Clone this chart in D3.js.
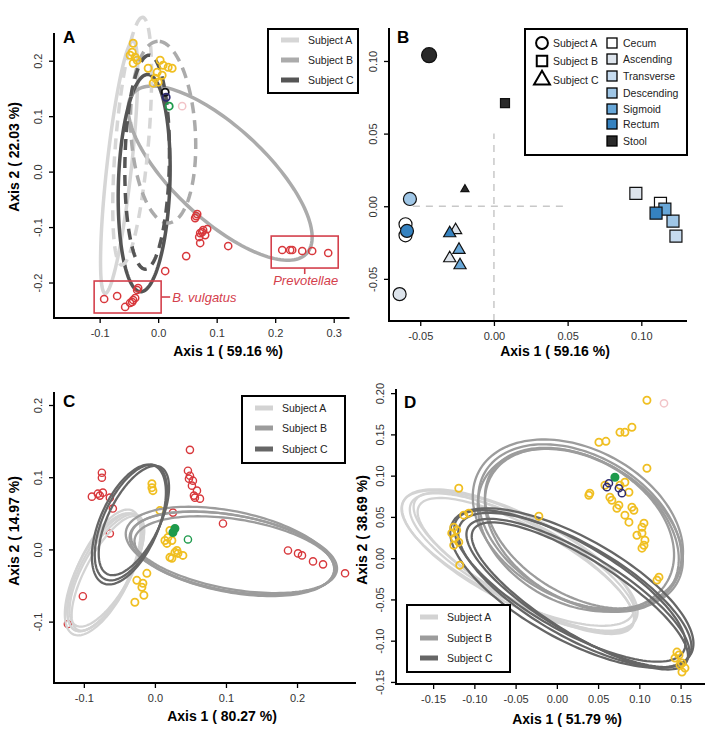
<!DOCTYPE html>
<html><head><meta charset="utf-8">
<script src="https://cdn.jsdelivr.net/npm/d3@7"></script>
<style>
body{margin:0;background:#fff;}
svg{display:block;font-family:"Liberation Sans",Arial,Helvetica,sans-serif;}
</style>
</head><body>
<svg id="fig" width="714" height="736"></svg>
<script>
// ---------------- DATA ----------------
const subjects = ["Subject A", "Subject B", "Subject C"];
const sites = ["Cecum", "Ascending", "Transverse", "Descending", "Sigmoid", "Rectum", "Stool"];

// Panel A: ellipses [subject, dashed, cx, cy, a, b, angleDeg]
const ellipsesA = [
  [0, 0, -0.0667, 0.0081, 0.229, 0.021, 84],
  [1, 0, 0.1060, -0.0027, 0.207, 0.081, -45],
  [2, 0, -0.0239, -0.0207, 0.196, 0.044, 88.2],
  [0, 1, -0.0444, 0.0550, 0.224, 0.028, 85.4],
  [1, 1, 0.0085, 0.0712, 0.164, 0.055, 93.3],
  [2, 1, -0.0188, 0.0171, 0.193, 0.038, 89]
];
const goldA = [[-0.0427,0.2315],[-0.0444,0.2153],[-0.0479,0.2099],[-0.0393,0.2063],[-0.0359,0.2009],[-0.0427,0.1955],
  [0.0034,0.2009],[0.0085,0.1919],[0.0171,0.1883],[0.0239,0.1865],[-0.0017,0.1793],[-0.0051,0.1685],[-0.0085,0.1595],
  [0.0,0.1613],[0.0068,0.1739],[-0.0171,0.1865]];
const redA = [[0.065,-0.0802],[0.0632,-0.0838],[0.0667,-0.0766],[0.0718,-0.1108],[0.0752,-0.109],[0.0769,-0.1054],
  [0.0701,-0.118],[0.0838,-0.1036],[0.0718,-0.1288],[0.0803,-0.1144],[0.1197,-0.1342],[0.0479,-0.1523],[0.012,-0.1793],
  [0.212,-0.1414],[0.2256,-0.1414],[0.2291,-0.1414],[0.2462,-0.1432],[0.2632,-0.1432],[0.2906,-0.1468],
  [-0.0923,-0.2297],[-0.0701,-0.2243],[-0.0564,-0.2441],[-0.0444,-0.2351],[-0.0427,-0.2315],[-0.0393,-0.2279],
  [-0.0479,-0.2369],[-0.0342,-0.2099],[-0.0359,-0.2135]];
const blackA = [[0.012,0.1432]];
const navyA = [[0.0137,0.1342]];
const greenA = [[0.0188,0.118]];
const pinkA = [[0.041,0.118]];
const boxesA = [
  {label: "B. vulgatus", x0: -0.1094, x1: 0.0051, y0: -0.255, y1: -0.1973, side: "right"},
  {label: "Prevotellae", x0: 0.1932, x1: 0.3077, y0: -0.1739, y1: -0.1162, side: "below"}
];
const ticksAx = [-0.1, 0, 0.1, 0.2, 0.3];
const ticksAy = [-0.2, -0.1, 0, 0.1, 0.2];

// Panel B: [subject, site, x, y]
const pointsB = [
  [0,6,-0.044,0.104],[1,6,0.0075,0.071],[2,6,-0.0197,0.0117],
  [0,3,-0.057,0.005],[0,0,-0.060,-0.0124],[0,0,-0.060,-0.020],[0,5,-0.059,-0.017],[0,1,-0.064,-0.0605],
  [2,1,-0.026,-0.0165],[2,5,-0.030,-0.0186],[2,4,-0.0237,-0.030],[2,1,-0.030,-0.0358],[2,4,-0.023,-0.0406],
  [1,1,0.0963,0.0089],[1,0,0.113,0.002],[1,4,0.116,-0.002],[1,5,0.110,-0.0048],[1,3,0.1215,-0.0103],[1,2,0.1235,-0.0206]
];
const refLinesB = {h: [-0.055, 0.05], v: [-0.079, 0.05]};
const ticksBx = [-0.05, 0, 0.05, 0.10];
const ticksBy = [-0.05, 0, 0.05, 0.10];

// Panel C: ellipses [subject, cx, cy, a, b, angleDeg]
const ellipsesC = [
  [0,-0.0704,-0.0317,0.0907,0.0349,62],[0,-0.0676,-0.0290,0.088,0.033,60],[0,-0.0732,-0.0345,0.093,0.037,63],
  [0,-0.0662,-0.0331,0.089,0.031,61],[0,-0.0718,-0.0290,0.092,0.036,64],
  [1,0.1085,-0.0055,0.146,0.053,-10],[1,0.1127,-0.0083,0.143,0.050,-9],[1,0.1056,-0.0028,0.149,0.056,-11],
  [1,0.1113,-0.0041,0.147,0.051,-10],
  [2,-0.0338,0.0372,0.0865,0.039,65],[2,-0.0296,0.0400,0.083,0.036,63],[2,-0.0366,0.0345,0.089,0.041,66]
];
const redC = [[0.0493,0.1379],[0.0465,0.109],[0.0493,0.1021],[0.0535,0.0952],[0.0521,0.0883],[0.0592,0.0814],
  [0.0549,0.0745],[0.0634,0.0703],[0.0563,0.0717],[0.0479,0.0979],[-0.0746,0.1062],[-0.0746,0.0993],[-0.0887,0.0731],
  [-0.0803,0.0772],[-0.0732,0.0786],[-0.0634,0.0717],[-0.0592,0.0566],[-0.0775,0.0745],[-0.0634,0.0221],[0.0254,0.051],
  [0.0958,0.0359],[-0.1014,-0.0648],[-0.1225,-0.1034],[0.1873,-0.0014],[0.2014,-0.0055],[0.207,-0.0083],
  [0.2225,-0.0166],[0.2366,-0.0207],[0.2676,-0.0331]];
const goldC = [[-0.0042,0.091],[-0.0042,0.0855],[-0.0028,0.0814],[0.007,0.0538],[0.0211,0.0262],[0.0183,0.0166],
  [0.0169,0.0083],[0.0141,0.0124],[0.0239,0.0124],[0.0282,-0.0041],[0.0211,-0.011],[0.0394,-0.0083],[0.0324,-0.0055],
  [0.031,-0.0014],[0.0239,-0.0124],[-0.0113,-0.0331],[-0.0169,-0.0469],[-0.0183,-0.0524],[-0.0155,-0.0634],
  [-0.0282,-0.0731],[-0.0254,-0.0428]];
const greenC = [[0.0254,0.0234],[0.0282,0.029],[0.0465,0.0138]];
const ticksCx = [-0.1, 0, 0.1, 0.2];
const ticksCy = [-0.1, 0, 0.1, 0.2];

// Panel D
const ellipsesD = [
  [0,-0.0413,-0.0048,0.153,0.048,-28],[0,-0.0449,-0.0024,0.158,0.053,-27],[0,-0.0376,-0.0085,0.148,0.044,-29],
  [0,-0.0473,0.0,0.155,0.051,-26],[0,-0.0400,-0.0061,0.152,0.046,-30],
  [1,0.0279,0.0375,0.133,0.087,-30],[1,0.0303,0.0339,0.128,0.085,-32],[1,0.0255,0.0412,0.136,0.091,-28],
  [1,0.0328,0.0363,0.131,0.082,-31],[1,0.0231,0.0339,0.127,0.088,-29],
  [2,0.0218,-0.0386,0.160,0.056,-30],[2,0.0255,-0.0422,0.155,0.048,-31],[2,0.0182,-0.0362,0.165,0.062,-29],
  [2,0.0279,-0.0458,0.152,0.045,-32],[2,0.0158,-0.0337,0.159,0.053,-30]
];
const goldD = [[0.1092,0.1913],[0.091,0.1586],[0.0765,0.1525],[0.0825,0.1525],[0.051,0.1404],[0.0595,0.1416],
  [0.1092,0.109],[0.0583,0.0884],[0.0765,0.0884],[0.0825,0.092],[0.0874,0.0799],[0.04,0.0787],[0.0388,0.0763],
  [0.0643,0.0738],[0.0667,0.0702],[0.0752,0.0642],[0.0728,0.0605],[0.091,0.0617],[0.0934,0.0581],[0.0825,0.0521],
  [0.0874,0.0436],[0.1056,0.0424],[0.1032,0.0375],[0.0971,0.0278],[0.1032,0.0303],[0.1068,0.0218],[0.1056,0.0157],
  [0.1032,0.0121],[-0.1189,0.0847],[-0.1129,0.0521],[-0.1068,0.0545],[-0.0218,0.0508],[-0.125,0.0375],
  [-0.1274,0.0303],[-0.1214,0.0339],[-0.1238,0.0242],[-0.125,0.0157],[-0.1189,0.0194],[-0.1177,-0.0085],
  [0.1238,-0.023],[0.1214,-0.0266],[0.1456,-0.1138],[0.1481,-0.1174],[0.1432,-0.1211],[0.1517,-0.1271],
  [0.1553,-0.1332],[0.1517,-0.138],[0.1493,-0.1295]];
const pinkD = [[0.1299,0.1877]];
const greenD = [[0.0704,0.0981]];
const navyD = [[0.0631,0.0908],[0.0607,0.086],[0.0789,0.0787],[0.0752,0.0847]];
const ticksDx = [-0.15, -0.10, -0.05, 0, 0.05, 0.10, 0.15];
const ticksDy = [-0.15, -0.10, -0.05, 0, 0.05, 0.10, 0.15, 0.20];

// ---------------- STYLE ----------------
const greysA = ["#d6d6d6", "#ababab", "#555555"];
const greysCD = ["#d3d3d3", "#9c9c9c", "#666666"];
const siteColors = ["#ffffff", "#dde4ec", "#c6dbef", "#9fc6e6", "#68a7d8", "#3582c0", "#2a2a2a"];
const GOLD = "#f0bf22", RED = "#d8383c", GREEN = "#1e9a4c", NAVY = "#2e2b70", PINK = "#f2c4c8", BLACK = "#111";
const ANN = "#d4404c";

const svg = d3.select("#fig");
const FONT_TICK = 11;

function drawAxes(g, x, y, xt, yt, fmt) {
  const [x0, x1] = x.range(), [y0, y1] = y.range();
  const ax = g.append("g").attr("transform", `translate(0,${y0})`)
    .call(d3.axisBottom(x).tickValues(xt).tickFormat(fmt).tickSize(5).tickPadding(5));
  ax.select(".domain").remove();
  ax.selectAll("line").attr("stroke", "#000").attr("stroke-width", 1.3);
  ax.selectAll("text").attr("font-size", FONT_TICK).attr("fill", "#333").attr("font-family", null).attr("y", 11);
  const ay = g.append("g").attr("transform", `translate(${x0},0)`)
    .call(d3.axisLeft(y).tickValues(yt).tickFormat(fmt).tickSize(5));
  ay.select(".domain").remove();
  ay.selectAll("line").attr("stroke", "#000").attr("stroke-width", 1.3);
  ay.selectAll("text").attr("font-size", FONT_TICK).attr("fill", "#333").attr("font-family", null)
    .attr("text-anchor", "middle").attr("transform", "rotate(-90)").attr("x", 0).attr("y", -12).attr("dy", null);
  g.append("path").attr("d", `M${x0},${y1}V${y0}H${x1}`).attr("fill", "none").attr("stroke", "#000").attr("stroke-width", 2);
}
function title(g, txt, x, y, rot) {
  const t = g.append("text").text(txt).attr("font-size", 14).attr("font-weight", "bold").attr("text-anchor", "middle");
  if (rot) t.attr("transform", `translate(${x},${y}) rotate(-90)`); else t.attr("x", x).attr("y", y);
}
function letter(g, txt, x, y) {
  g.append("text").text(txt).attr("x", x).attr("y", y).attr("font-size", 17).attr("font-weight", "bold");
}
function ellipsePts(cx, cy, a, b, ang) {
  const th = ang * Math.PI / 180;
  return d3.range(0, 145).map(i => {
    const t = i / 144 * 2 * Math.PI;
    return [cx + a * Math.cos(t) * Math.cos(th) - b * Math.sin(t) * Math.sin(th),
            cy + a * Math.cos(t) * Math.sin(th) + b * Math.sin(t) * Math.cos(th)];
  });
}
function pts(g, data, x, y, color, r, sw, fill) {
  g.append("g").selectAll("circle").data(data).join("circle")
    .attr("cx", d => x(d[0])).attr("cy", d => y(d[1])).attr("r", r)
    .attr("fill", fill || "none").attr("stroke", color).attr("stroke-width", sw);
}
function lineLegend(g, x0, y0, w, h, rows, colors) {
  g.append("rect").attr("x", x0).attr("y", y0).attr("width", w).attr("height", h)
    .attr("fill", "#fff").attr("stroke", "#000").attr("stroke-width", 2);
  subjects.forEach((s, i) => {
    const yy = rows[i];
    g.append("line").attr("x1", x0 + 13).attr("x2", x0 + 31).attr("y1", yy).attr("y2", yy)
      .attr("stroke", colors[i]).attr("stroke-width", 5);
    g.append("text").text(s).attr("x", x0 + 40).attr("y", yy).attr("dy", "0.35em")
      .attr("font-size", 10.5).attr("fill", "#222");
  });
}
const fmtA = v => v.toFixed(1);
const fmtB = v => v.toFixed(2);

// ---------------- PANEL A ----------------
{
  const g = svg.append("g");
  const x = d3.scaleLinear().domain([-0.178, 0.327]).range([54, 349.5]);
  const y = d3.scaleLinear().domain([-0.264, 0.25]).range([318, 33]);
  const line = d3.line().x(d => x(d[0])).y(d => y(d[1]));
  ellipsesA.forEach(e => {
    g.append("path").attr("d", line(ellipsePts(e[2], e[3], e[4], e[5], e[6])) + "Z")
      .attr("fill", "none").attr("stroke", greysA[e[0]]).attr("stroke-width", 3.5)
      .attr("stroke-dasharray", e[1] ? "11,7" : null);
  });
  pts(g, goldA, x, y, GOLD, 3.6, 1.8);
  pts(g, redA, x, y, RED, 3.6, 1.5);
  pts(g, blackA, x, y, BLACK, 3.6, 1.8);
  pts(g, navyA, x, y, NAVY, 3.6, 1.8);
  pts(g, greenA, x, y, GREEN, 3.6, 1.8);
  pts(g, pinkA, x, y, PINK, 3.6, 1.5);
  boxesA.forEach(b => {
    g.append("rect").attr("x", x(b.x0)).attr("y", y(b.y1)).attr("width", x(b.x1) - x(b.x0)).attr("height", y(b.y0) - y(b.y1))
      .attr("fill", "none").attr("stroke", ANN).attr("stroke-width", 1.6);
    const t = g.append("text").text(b.label).attr("font-size", 13).attr("font-style", "italic").attr("fill", ANN);
    if (b.side === "right") {
      const ym = (y(b.y0) + y(b.y1)) / 2;
      g.append("line").attr("x1", x(b.x1)).attr("x2", x(b.x1) + 9).attr("y1", ym).attr("y2", ym).attr("stroke", ANN).attr("stroke-width", 1.6);
      t.attr("x", x(b.x1) + 11).attr("y", ym + 4.5);
    } else {
      const xm = (x(b.x0) + x(b.x1)) / 2;
      g.append("line").attr("x1", xm).attr("x2", xm).attr("y1", y(b.y0)).attr("y2", y(b.y0) + 6).attr("stroke", ANN).attr("stroke-width", 1.6);
      t.attr("x", xm + 1).attr("y", y(b.y0) + 17).attr("text-anchor", "middle");
    }
  });
  drawAxes(g, x, y, ticksAx, ticksAy, fmtA);
  title(g, "Axis 1 ( 59.16 %)", 228, 356);
  title(g, "Axis 2 ( 22.03 %)", 19, 157, true);
  letter(g, "A", 63, 43);
  lineLegend(g, 268, 29, 90, 64, [40, 60, 80], greysA);
}

// ---------------- PANEL B ----------------
{
  const g = svg.append("g");
  const x = d3.scaleLinear().domain([-0.0712, 0.131]).range([389, 687]);
  const y = d3.scaleLinear().domain([-0.079, 0.1227]).range([321, 28]);
  g.append("line").attr("x1", x(refLinesB.h[0])).attr("x2", x(refLinesB.h[1])).attr("y1", y(0)).attr("y2", y(0))
    .attr("stroke", "#c8c8c8").attr("stroke-width", 1.5).attr("stroke-dasharray", "7,6");
  g.append("line").attr("x1", x(0)).attr("x2", x(0)).attr("y1", y(refLinesB.v[0])).attr("y2", y(refLinesB.v[1]))
    .attr("stroke", "#c8c8c8").attr("stroke-width", 1.5).attr("stroke-dasharray", "7,6");
  const shapes = [d3.symbolCircle, d3.symbolSquare, d3.symbolTriangle];
  const sizes = [[133, 144, 64], [177, 81, 28]];
  const sorted = pointsB.slice().sort((a, b) => a[1] - b[1]);
  g.selectAll("path.pt").data(sorted).join("path").attr("class", "pt")
    .attr("transform", d => `translate(${x(d[2])},${y(d[3])})`)
    .attr("d", d => d3.symbol(shapes[d[0]], sizes[d[1] === 6 ? 1 : 0][d[0]])())
    .attr("fill", d => siteColors[d[1]]).attr("stroke", "#111").attr("stroke-width", 1.2);
  drawAxes(g, x, y, ticksBx, ticksBy, fmtB);
  title(g, "Axis 1 ( 59.16 %)", 555, 356);
  letter(g, "B", 397, 43);
  // legend
  g.append("rect").attr("x", 525).attr("y", 29).attr("width", 162).attr("height", 126)
    .attr("fill", "#fff").attr("stroke", "#000").attr("stroke-width", 2);
  const lsz = [110, 110, 110];
  subjects.forEach((s, i) => {
    const yy = [43, 61, 80][i];
    g.append("path").attr("transform", `translate(542,${yy})`).attr("d", d3.symbol(shapes[i], lsz[i])())
      .attr("fill", "none").attr("stroke", "#000").attr("stroke-width", 2);
    g.append("text").text(s).attr("x", 553).attr("y", yy).attr("dy", "0.35em").attr("font-size", 10.5).attr("fill", "#222");
  });
  sites.forEach((s, i) => {
    const yy = [43, 59, 76, 93, 109, 124, 141][i];
    g.append("rect").attr("x", 607).attr("y", yy - 5).attr("width", 10).attr("height", 10)
      .attr("fill", siteColors[i]).attr("stroke", "#000").attr("stroke-width", 1.3);
    g.append("text").text(s).attr("x", 623).attr("y", yy).attr("dy", "0.35em").attr("font-size", 10.5).attr("fill", "#222");
  });
}

// ---------------- PANEL C ----------------
{
  const g = svg.append("g");
  const x = d3.scaleLinear().domain([-0.142, 0.283]).range([54, 356]);
  const y = d3.scaleLinear().domain([-0.185, 0.218]).range([683, 392]);
  const line = d3.line().x(d => x(d[0])).y(d => y(d[1]));
  pts(g, redC, x, y, RED, 3.6, 1.4);
  pts(g, goldC, x, y, GOLD, 3.6, 1.8);
  pts(g, greenC.slice(0, 2), x, y, GREEN, 3.6, 1.8, GREEN);
  pts(g, greenC.slice(2), x, y, GREEN, 3.6, 1.4);
  ellipsesC.forEach(e => {
    g.append("path").attr("d", line(ellipsePts(e[1], e[2], e[3], e[4], e[5])) + "Z")
      .attr("fill", "none").attr("stroke", greysCD[e[0]]).attr("stroke-width", 2.3);
  });
  drawAxes(g, x, y, ticksCx, ticksCy, fmtA);
  title(g, "Axis 1 ( 80.27 %)", 222, 721);
  title(g, "Axis 2 ( 14.97 %)", 19, 531, true);
  letter(g, "C", 63, 407);
  lineLegend(g, 242, 396, 103, 67, [408, 428, 449], greysCD);
}

// ---------------- PANEL D ----------------
{
  const g = svg.append("g");
  const x = d3.scaleLinear().domain([-0.195, 0.1796]).range([396, 705]);
  const y = d3.scaleLinear().domain([-0.1525, 0.205]).range([684, 389]);
  const line = d3.line().x(d => x(d[0])).y(d => y(d[1]));
  ellipsesD.forEach(e => {
    g.append("path").attr("d", line(ellipsePts(e[1], e[2], e[3], e[4], e[5])) + "Z")
      .attr("fill", "none").attr("stroke", greysCD[e[0]]).attr("stroke-width", 2.3);
  });
  pts(g, goldD, x, y, GOLD, 3.6, 1.8);
  pts(g, pinkD, x, y, PINK, 3.6, 1.5);
  pts(g, greenD, x, y, GREEN, 3.8, 1.5, GREEN);
  pts(g, navyD, x, y, NAVY, 3.6, 1.5);
  drawAxes(g, x, y, ticksDx, ticksDy, fmtB);
  title(g, "Axis 1 ( 51.79 %)", 567, 724);
  title(g, "Axis 2 ( 38.69 %)", 367, 530, true);
  letter(g, "D", 404, 408);
  lineLegend(g, 407, 605, 103, 67, [617, 638, 658], greysCD);
}
</script>
</body></html>
